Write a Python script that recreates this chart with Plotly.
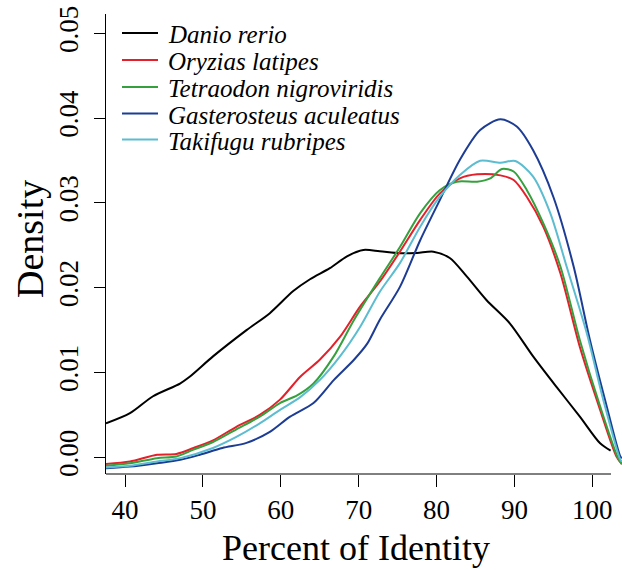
import plotly.graph_objects as go

# ---- data ----
species = ["Danio rerio", "Oryzias latipes", "Tetraodon nigroviridis",
           "Gasterosteus aculeatus", "Takifugu rubripes"]
colors = ["#000000", "#E4202A", "#36A03E", "#1D3C94", "#5CBCD0"]

danio_x = [37.56, 40.64, 43.6, 47.06, 48.3, 51.3, 55.6, 58.6, 61.6, 63.75, 66.3, 68.5, 70.6,
           72.7, 75.3, 77.5, 79.6, 81.7, 83.9, 86.4, 89.4, 92.4, 95.4, 98.4, 101.0, 102.35]
danio_y = [0.0040, 0.0052, 0.0072, 0.0087, 0.0095, 0.0119, 0.0150, 0.0170, 0.0196, 0.0210,
           0.0223, 0.0237, 0.02445, 0.0243, 0.02406, 0.0241, 0.02425, 0.0235, 0.0213, 0.01855,
           0.0158, 0.0119, 0.0083, 0.0048, 0.00165, 0.00078]

oryzias_x = [37.56, 40.64, 44.1, 46.6, 48.8, 51.3, 54.3, 57.3, 59.9, 62.5, 65.0, 67.6, 70.2,
             72.7, 75.3, 77.9, 80.4, 83.0, 85.2, 88.2, 89.9, 91.6, 93.7, 95.9, 98.4, 101.0,
             103.1, 103.8]
oryzias_y = [-0.0008, -0.0005, 0.0003, 0.0004, 0.0011, 0.0020, 0.0036, 0.0050, 0.0068, 0.0095,
             0.0115, 0.0142, 0.0178, 0.0207, 0.02425, 0.0280, 0.0311, 0.0329, 0.03337, 0.03325,
             0.0327, 0.0307, 0.0272, 0.0217, 0.0130, 0.0056, 0.0001, -0.0008]

tetraodon_x = [37.56, 40.6, 44.1, 46.6, 48.8, 51.3, 54.3, 57.3, 59.9, 62.1, 64.2, 66.8, 69.4,
               72.7, 75.3, 77.9, 80.4, 82.6, 85.2, 86.9, 88.4, 89.9, 91.6, 93.7, 95.9, 98.4,
               101.0, 103.3, 103.8]
tetraodon_y = [-0.0010, -0.0007, -0.0001, 0.0001, 0.0009, 0.0018, 0.0033, 0.0048, 0.0064, 0.0073,
               0.0087, 0.0119, 0.0162, 0.0211, 0.0248, 0.0288, 0.0315, 0.0325, 0.0325, 0.0329,
               0.0340, 0.0337, 0.0315, 0.0276, 0.0225, 0.0138, 0.0060, -0.0001, -0.0008]

gasterosteus_x = [37.56, 40.6, 44.1, 47.1, 49.6, 52.5, 55.6, 58.6, 61.2, 64.2, 66.8, 69.4, 71.1,
                  72.7, 75.3, 77.9, 80.4, 83.0, 85.6, 88.2, 90.3, 92.4, 95.0, 97.6, 99.7, 101.85,
                  103.6, 103.8]
gasterosteus_y = [-0.0013, -0.0011, -0.0007, -0.0003, 0.0003, 0.0011, 0.0017, 0.0030, 0.0048,
                  0.0064, 0.0091, 0.0115, 0.0134, 0.0162, 0.0201, 0.0256, 0.0303, 0.0351, 0.0386,
                  0.03986, 0.0390, 0.0362, 0.0307, 0.0225, 0.0138, 0.0060, 0.0001, -0.0001]

takifugu_x = [37.56, 40.6, 44.1, 47.1, 51.3, 54.3, 57.3, 59.9, 62.5, 65.0, 67.6, 70.2, 72.7,
              75.3, 77.9, 80.4, 83.0, 85.6, 88.2, 90.1, 92.4, 94.6, 96.7, 99.3, 101.4, 103.6, 103.8]
takifugu_y = [-0.0012, -0.0010, -0.0005, -0.0001, 0.0011, 0.0024, 0.0040, 0.0056, 0.0071, 0.0091,
              0.0119, 0.0154, 0.0195, 0.0229, 0.0272, 0.0307, 0.0333, 0.03498, 0.03474, 0.03494,
              0.0331, 0.0288, 0.0225, 0.0146, 0.0068, -0.0003, -0.0005]

x_ticks = [40, 50, 60, 70, 80, 90, 100]
y_ticks = [0.00, 0.01, 0.02, 0.03, 0.04, 0.05]

series_x = [danio_x, oryzias_x, tetraodon_x, gasterosteus_x, takifugu_x]
series_y = [danio_y, oryzias_y, tetraodon_y, gasterosteus_y, takifugu_y]

# ---- figure geometry ----
W, H = 622, 570
L, R, T, B = 106, 0, 14, 96
PW, PH = W - L - R, H - T - B


def px(xpix):
    return (xpix - L) / PW


def py(ypix):
    return (H - B - ypix) / PH


SERIF = "Liberation Serif, Times New Roman, serif"

fig = go.Figure()
for name, col, xs, ys in zip(species, colors, series_x, series_y):
    fig.add_trace(go.Scatter(x=xs, y=ys, mode="lines", name=name,
                             line=dict(color=col, width=2, shape="spline", smoothing=0.8),
                             showlegend=False))

shapes = []
annotations = []
# manual legend
leg_y = [33, 60, 87, 113.5, 139.5]
for name, col, yy in zip(species, colors, leg_y):
    shapes.append(dict(type="line", xref="paper", yref="paper",
                       x0=px(122), x1=px(158), y0=py(yy), y1=py(yy),
                       line=dict(color=col, width=2)))
    annotations.append(dict(text=name, xref="paper", yref="paper", x=px(166), y=py(yy + 2),
                            xanchor="left", yanchor="middle", showarrow=False,
                            font=dict(family=SERIF, size=25, color="black",
                                      style="italic")))

# R-style x-axis line (only to the last tick region)
shapes.append(dict(type="line", xref="paper", yref="paper", x0=0, x1=px(611), y0=0, y1=0,
                   line=dict(color="black", width=1)))

# axis titles
annotations.append(dict(text="Percent of Identity", xref="paper", yref="paper",
                        x=px(356), y=py(548), xanchor="center", yanchor="middle",
                        showarrow=False, font=dict(family=SERIF, size=36, color="black")))
annotations.append(dict(text="Density", xref="paper", yref="paper",
                        x=px(30), y=py(239), xanchor="center", yanchor="middle",
                        textangle=-90, showarrow=False,
                        font=dict(family=SERIF, size=38, color="black")))

fig.update_layout(
    width=W, height=H,
    margin=dict(l=L, r=R, t=T, b=B, pad=0),
    paper_bgcolor="white", plot_bgcolor="white",
    shapes=shapes, annotations=annotations,
    showlegend=False,
    xaxis=dict(range=[37.56, 103.81], tickvals=x_ticks, ticktext=[str(v) for v in x_ticks],
               ticks="outside", ticklen=12, tickwidth=1, tickcolor="black",
               showline=False, showgrid=False, zeroline=False,
               tickfont=dict(family=SERIF, size=27, color="black")),
    yaxis=dict(range=[-0.00197, 0.05228], tickvals=y_ticks,
               ticktext=[f"{v:.2f}" for v in y_ticks], tickangle=-90,
               ticks="outside", ticklen=11, tickwidth=1, tickcolor="black",
               showline=True, linecolor="black", linewidth=1,
               showgrid=False, zeroline=False, ticklabelstandoff=5,
               tickfont=dict(family=SERIF, size=27, color="black")),
)

fig.write_html("out.html", config={"displayModeBar": False},
               post_script="document.body.style.margin='0';"
                           "document.body.style.overflow='hidden';")
